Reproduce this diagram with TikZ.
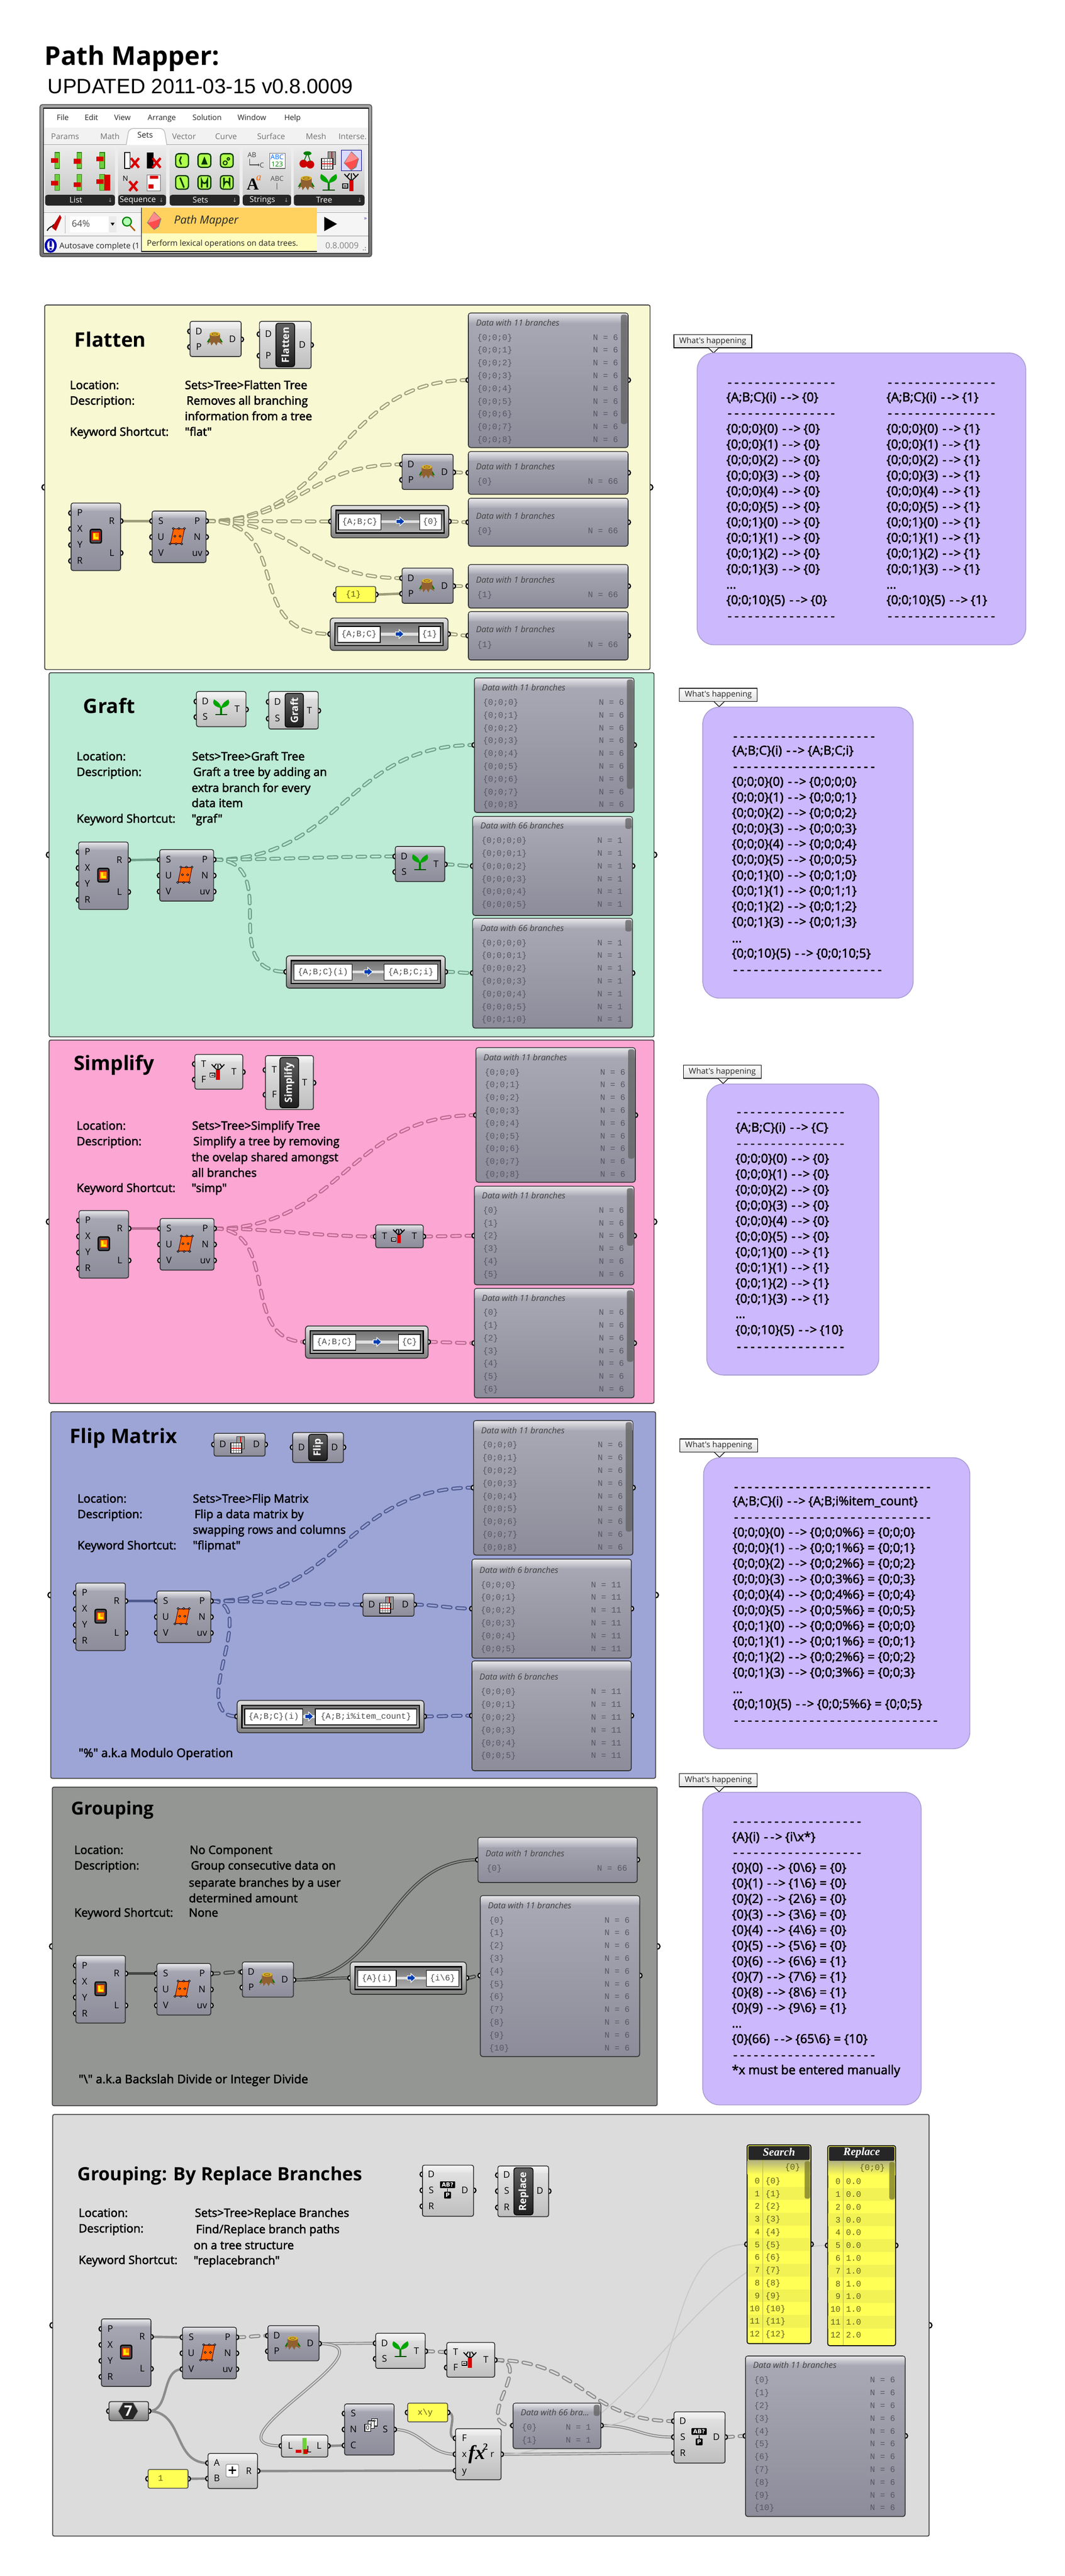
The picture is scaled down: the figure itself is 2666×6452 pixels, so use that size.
\documentclass[tikz,border=0pt]{standalone}
\usepackage{fontspec}
\usetikzlibrary{shapes.geometric}
\setmainfont{Open Sans}
\newfontfamily\fcombase[FakeBold=2.5]{Open Sans}
\newfontfamily\fui{Open Sans}
\newfontfamily\fmonob{Liberation Mono}
\newfontfamily\farial{Liberation Sans}
\newfontfamily\fserif{Liberation Serif}
\newfontfamily\fdj{DejaVu Sans}
\pgfdeclarelayer{panels}\pgfdeclarelayer{wires}\pgfdeclarelayer{ports}
\pgfsetlayers{panels,wires,ports,main}
\newcommand\fz[1]{\fontsize{#1}{#1}\selectfont}
\definecolor{pflat}{HTML}{F8F8D3}\definecolor{pgraft}{HTML}{BCEBD6}\definecolor{psimp}{HTML}{FCA6D3}
\definecolor{pflip}{HTML}{9DA5D7}\definecolor{pgroup}{HTML}{949694}\definecolor{prepl}{HTML}{DCDCDC}
\definecolor{purp}{HTML}{CBB8FD}\definecolor{purpe}{HTML}{A99CD2}
\definecolor{dtop}{HTML}{AAAAB6}\definecolor{dbot}{HTML}{8C8C9A}\definecolor{dband}{HTML}{E4E4E8}
\definecolor{ltop}{HTML}{E6E6E6}\definecolor{lbot}{HTML}{BEBEBE}\definecolor{lband}{HTML}{F4F4F4}
\definecolor{rowc}{HTML}{565664}\definecolor{yel}{HTML}{FFFF55}\definecolor{yel2}{HTML}{F2F255}\definecolor{yeltx}{HTML}{60601A}
\definecolor{orng}{HTML}{FFD15F}\definecolor{gbar}{HTML}{6FCF3F}\definecolor{gdk}{HTML}{2F7F10}
\definecolor{wc}{HTML}{9F9F7C}\definecolor{wb}{HTML}{F8F8D3}
\tikzset{
 txt/.style={inner sep=0pt,outer sep=0pt,anchor=mid west,text=black},
 fnt/.style 2 args={font=#1\fz{#2},yshift={-(0.33*#2-2.7)}},
 portc/.style={draw=black,line width=3pt,fill=white},
 panelbox/.style={rectangle,rounded corners=4pt,draw=black!75,line width=2.2pt,inner sep=0pt,outer sep=0pt},
 cnode/.style={rectangle,rounded corners=5pt,draw=black!80,line width=2.2pt,inner sep=0pt,outer sep=0pt},
 bdark/.style={top color=dtop,bottom color=dbot},
 blight/.style={top color=ltop,bottom color=lbot},
 sdark/.style={top color=dband,bottom color=dtop},
 slight/.style={top color=lband,bottom color=ltop},
 wsolid/.style={draw=wc,line width=6pt},
 wlist/.style={draw=wc,line width=2.4pt,double=wb,double distance=2.6pt},
 wtree/.style={draw=wc,line width=2.8pt,double=wb,double distance=4pt,dash pattern=on 20pt off 16pt,line cap=round},
 wfaint/.style={draw=black!22,line width=2.4pt},
 tabn/.style={rectangle,rounded corners=6pt,draw=black,line width=2pt,top color=black!62,bottom color=black!88,inner sep=0pt,outer sep=0pt},
 pmbody/.style={rectangle,rounded corners=8pt,draw=black!80,line width=2.2pt,top color=black!12,bottom color=black!50,inner sep=0pt,outer sep=0pt},
 pmframe/.style={draw=black,line width=3pt,top color=black!55,bottom color=black!30},
 pmbox/.style={rectangle,draw=black,line width=2pt,fill=white,inner sep=0pt,outer sep=0pt,text=black!70,font=\fmonob\fz{21}},
 yelbox/.style={rectangle,rounded corners=4pt,draw=black!70,line width=2pt,fill=yel,inner sep=0pt,outer sep=0pt},
 purpbox/.style={rectangle,rounded corners=42pt,draw=purpe,line width=2pt,fill=purp,inner sep=0pt,outer sep=0pt},
 calloutn/.style={rectangle,draw=black,line width=2pt,top color=white,bottom color=black!12,inner sep=0pt,outer sep=0pt,font=\fui\fz{20},text=black!85},
}
\newcount\tc
\newcount\dc
\newcommand\tx[4][]{\global\advance\tc by 1 \node[txt,#1] (t\the\tc) at ({#2},{#3}) {#4};}
\newcommand\ct[3]{\tx[fnt={\fcombase}{29}]{#1}{#2}{#3}}
\newcommand\bigt[3]{\tx[fnt={\fui\bfseries}{50}]{#1}{#2}{#3}}
\newcommand\port[3]{\coordinate (#1) at ({#2},{#3});\begin{pgfonlayer}{ports}\draw[portc] ({#2},{#3}) circle[radius=6];\end{pgfonlayer}}
\newcommand\panel[6]{\coordinate (#1-l) at ({#2},{#3+((#5)-(#3))/2});\coordinate (#1-r) at ({#4},{#3+((#5)-(#3))/2});
 \begin{pgfonlayer}{panels}
 \draw[portc] (#1-l) circle[radius=7];\draw[portc] (#1-r) circle[radius=7];
 \node[panelbox,fill=#6,minimum width={(#4)-(#2)},minimum height={(#5)-(#3)}] (#1) at ({#2+((#4)-(#2))/2},{#3+((#5)-(#3))/2}) {};
 \end{pgfonlayer}}
\newcommand\cbody[7]{\node[cnode,b#7,minimum width={(#4)-(#2)},minimum height={(#5)-(#3)}] (#1) at ({#2+((#4)-(#2))/2},{#3+((#5)-(#3))/2}) {};
 \shade[s#7] ({#2+1.2},{#6}) [rounded corners=4pt] -- ({#2+1.2},{#3+1.2}) -- ({#4-1.2},{#3+1.2}) [sharp corners] -- ({#4-1.2},{#6}) -- cycle;}
\newcommand\inp[5]{\port{#1-#2}{#4}{#5}\tx[fnt={\fui}{23},anchor=mid]{#4+22}{#5}{#3}}
\newcommand\outp[5]{\port{#1-#2}{#4}{#5}\tx[fnt={\fui}{23},anchor=mid]{#4-22}{#5}{#3}}
\newcommand\wire[4][wtree]{\begin{pgfonlayer}{wires}\draw[#1] (#2) .. controls +(#4,0) and +(-#4,0) .. (#3);\end{pgfonlayer}}
% ---- icons
\newcommand\icstump[3][1]{\begin{scope}[shift={({#2},{#3})},scale=#1,yscale=.74]
 \fill[green!45!black] (-20,14) -- (-14,0) -- (-8,14) -- cycle;\fill[green!45!black] (20,14) -- (14,0) -- (8,14) -- cycle;
 \fill[brown!75!black] (-13,-14) -- (13,-14) -- (13,6) -- (19,22) -- (8,12) -- (4,25) -- (-2,13) -- (-9,25) -- (-11,12) -- (-19,22) -- (-13,6) -- cycle;
 \fill[brown!60!yellow] (0,-14) ellipse[x radius=13,y radius=7];
 \draw[brown!60!black,line width=1pt] (0,-14) ellipse[x radius=7,y radius=3.5];
 \end{scope}}
\newcommand\icsprout[3][1]{\begin{scope}[shift={({#2},{#3})},scale=#1,yscale=.72]
 \fill[green!50!black] (-2.5,-2) rectangle (2.5,26);\fill[green!30!black] (-15,23) rectangle (15,27);
 \fill[green!65!black] (0,2) .. controls (-22,-4) and (-22,-18) .. (-18,-28) .. controls (-8,-20) and (-1,-12) .. (0,2) -- cycle;
 \fill[green!65!black] (0,2) .. controls (22,-4) and (22,-18) .. (18,-28) .. controls (8,-20) and (1,-12) .. (0,2) -- cycle;
 \end{scope}}
\newcommand\icsimp[3][1]{\begin{scope}[shift={({#2},{#3})},scale=#1,yscale=.8]
 \draw[black,line width=2.5pt] (0,-4) -- (-10,-16) -- (-16,-24) (-10,-16) -- (-4,-26) (0,-4) -- (10,-16) -- (16,-24) (10,-16) -- (4,-26) (0,-4) -- (0,-26);
 \fill[red!85!black] (-5,-6) rectangle (5,24);
 \draw[black,line width=2pt,fill=white] (-20,4) rectangle (-8,16);\fill[black] (-17,9) rectangle (-11,11);
 \end{scope}}
\newcommand\icflip[3][1]{\begin{scope}[shift={({#2},{#3})},scale=#1]
 \draw[black!80,fill=black!40,line width=1.5pt] (-2,-24) rectangle (20,12);
 \fill[red!80!black] (8,-24) rectangle (10,-6);
 \draw[black,fill=white,line width=2pt] (-20,-6) rectangle (12,24);
 \draw[black!60,line width=.8pt] (-12,-6) -- (-12,24) (-4,-6) -- (-4,24) (4,-6) -- (4,24) (-20,2) -- (12,2) (-20,16) -- (12,16);
 \fill[red!85!black] (-20,8) rectangle (12,11);
 \end{scope}}
\newcommand\icsurf[2]{\begin{scope}[shift={({#1},{#2})},yscale=.92]
 \fill[black!70!red] (-10,-21) -- (19,-21) -- (11,21) -- (-18,21) -- cycle;
 \fill[orange!80!red] (-9,-19) -- (17,-19) -- (10,19) -- (-16,19) -- cycle;
 \foreach \qu/\qv in {-10/-21,4/-21,18/-21,-18/21,-3/21,11/21,-6/0,7/0}{\draw[black,fill=white,line width=1.4pt] (\qu,\qv) circle[radius=2.5];}
 \end{scope}}
\newcommand\icrect[2]{\begin{scope}[shift={({#1},{#2})}]
 \draw[black,line width=3pt,fill=black!70,rounded corners=4pt] (-14,-17) rectangle (14,17);
 \fill[orange!90!yellow] (-9,-10) rectangle (9,10);\draw[red!80!black,line width=1.5pt] (-9,-10) rectangle (9,10);
 \fill[yellow] (-6,-7) rectangle (-1,2) (-6,2) rectangle (6,7);
 \end{scope}}
\newcommand\icarrow[2]{\begin{scope}[shift={({#1},{#2})}]
 \draw[white,line width=1.5pt,fill=blue!65!cyan!70!black] (-10,-5) -- (-1,-5) -- (-1,-11) -- (11,0) -- (-1,11) -- (-1,5) -- (-10,5) -- cycle;
 \end{scope}}
\newcommand\icgem[3][1]{\begin{scope}[shift={({#2},{#3})},scale=#1]
 \fill[black!50] (0,-22) -- (18,-4) -- (12,16) -- (0,24) -- (-18,6) -- cycle;
 \fill[red!70!white] (-1,-20) -- (16,-5) -- (10,14) -- (-2,22) -- (-16,6) -- cycle;
 \fill[red!45!white] (-1,-20) -- (16,-5) -- (0,2) -- (-16,6) -- cycle;
 \end{scope}}
\newcommand\icrepl[2]{\begin{scope}[shift={({#1},{#2})}]
 \draw[black,line width=1.5pt] (0,-4) -- (0,6);
 \node[rectangle,rounded corners=1.5pt,fill=black,text=white,font=\fdj\bfseries\fz{14},inner sep=1.2pt,minimum width=38,minimum height=17] (tg\the\tc a) at (0,-13) {AB?};
 \node[rectangle,rounded corners=1.5pt,fill=black,text=white,font=\fdj\bfseries\fz{14},inner sep=1pt,minimum width=17,minimum height=17] (tg\the\tc b) at (0,13) {P};
 \global\advance\tc by 1
 \end{scope}}
% ---- components
\newcommand\rectc[3]{\cbody{#1}{#2}{#3}{#2+124}{#3+169}{#3+20}{dark}
 \inp{#1}{P}{P}{#2}{#3+25}\inp{#1}{X}{X}{#2}{#3+65}\inp{#1}{Y}{Y}{#2}{#3+105}\inp{#1}{Ri}{R}{#2}{#3+145}
 \outp{#1}{R}{R}{#2+124}{#3+45}\outp{#1}{L}{L}{#2+124}{#3+125}\icrect{#2+62}{#3+83}}
\newcommand\surfc[3]{\cbody{#1}{#2}{#3}{#2+135}{#3+129}{#3+19}{dark}
 \inp{#1}{S}{S}{#2}{#3+25}\inp{#1}{U}{U}{#2}{#3+65}\inp{#1}{V}{V}{#2}{#3+105}
 \outp{#1}{P}{P}{#2+135}{#3+25}\outp{#1}{N}{N}{#2+135}{#3+65}\outp{#1}{uv}{uv}{#2+135}{#3+105}\icsurf{#2+63}{#3+63}}
\newcommand\stumpc[4]{\cbody{#1}{#3}{#4}{#3+128}{#4+88}{#4+18}{#2}
 \inp{#1}{D}{D}{#3}{#4+25}\inp{#1}{P}{P}{#3}{#4+64}\outp{#1}{Do}{D}{#3+128}{#4+45}\icstump{#3+62}{#4+42}}
\newcommand\sproutc[4]{\cbody{#1}{#3}{#4}{#3+124}{#4+88}{#4+18}{#2}
 \inp{#1}{D}{D}{#3}{#4+25}\inp{#1}{S}{S}{#3}{#4+64}\outp{#1}{T}{T}{#3+124}{#4+45}\icsprout{#3+62}{#4+40}}
\newcommand\simpc[4]{\cbody{#1}{#3}{#4}{#3+120}{#4+87}{#4+18}{#2}
 \inp{#1}{T}{T}{#3}{#4+24}\inp{#1}{F}{F}{#3}{#4+63}\outp{#1}{To}{T}{#3+120}{#4+44}\icsimp{#3+58}{#4+44}}
\newcommand\simpsmall[3]{\cbody{#1}{#2}{#3}{#2+119}{#3+57}{#3+16}{dark}
 \inp{#1}{T}{T}{#2}{#3+29}\outp{#1}{To}{T}{#2+119}{#3+29}\icsimp[.9]{#2+58}{#3+29}}
\newcommand\flipc[3]{\cbody{#1}{#2}{#3}{#2+128}{#3+57}{#3+16}{dark}
 \inp{#1}{D}{D}{#2}{#3+28}\outp{#1}{Do}{D}{#2+128}{#3+28}\icflip[.85]{#2+59}{#3+29}}
\newcommand\replc[3]{\cbody{#1}{#2}{#3}{#2+128}{#3+128}{#3+18}{light}
 \inp{#1}{D}{D}{#2}{#3+23}\inp{#1}{S}{S}{#2}{#3+63}\inp{#1}{R}{R}{#2}{#3+103}\outp{#1}{Do}{D}{#2+128}{#3+63}\icrepl{#2+63}{#3+62}}
\newcommand\tabc[9]{\cbody{#1}{#2}{#3}{#4}{#5}{#3+18}{#9}
 \node[tabn,minimum width={(#7)-(#6)},minimum height={(#5)-(#3)-9}] (#1-tab) at ({#6+((#7)-(#6))/2},{#3+((#5)-(#3))/2}) {};
 \tx[anchor=center,rotate=90,text=white,font=\fui\bfseries\fz{25}]{#6+((#7)-(#6))/2}{#3+((#5)-(#3))/2}{#8}}
\newcommand\pmap[8]{\node[pmbody,minimum width={(#4)-(#2)},minimum height=81] (#1) at ({#2+((#4)-(#2))/2},{#3+40.5}) {};
 \port{#1-in}{#2}{#3+40}\port{#1-out}{#4}{#3+40}
 \draw[pmframe] ({#2+12},{#3+12}) rectangle ({#4-12},{#3+69});
 \fill[black!12] ({#5},{#3+37}) rectangle ({#6},{#3+44});
 \node[pmbox,minimum width={(#5)-(#2)-19},minimum height=40] (#1-a) at ({#2+19+((#5)-(#2)-19)/2},{#3+41}) {#7};
 \node[pmbox,minimum width={(#4)-19-(#6)},minimum height=40] (#1-b) at ({#6+((#4)-19-(#6))/2},{#3+41}) {#8};
 \icarrow{(#5+#6)/2}{#3+40}}
\newcommand\datap[9]{\node[cnode,rounded corners=6pt,top color=dtop,bottom color=dbot,minimum width={(#4)-(#2)},minimum height={(#5)-(#3)}] (#1) at ({#2+((#4)-(#2))/2},{#3+((#5)-(#3))/2}) {};
 \shade[top color=dband,bottom color=dtop] ({#2+1.2},{#6}) [rounded corners=4pt] -- ({#2+1.2},{#3+1.2}) -- ({#4-1.2},{#3+1.2}) [sharp corners] -- ({#4-1.2},{#6}) -- cycle;
 \port{#1-in}{#2}{#9}\port{#1-out}{#4}{#9}
 \tx[fnt={\fui\itshape}{21},text=black!75]{#2+19}{#8}{#7}}
\newcommand\drow[5]{\tx[fnt={\fmonob}{21},text=rowc]{#1+22}{#3}{#4}\tx[fnt={\fmonob}{21},text=rowc,anchor=mid east]{#2-25}{#3}{N = #5}}
\newcommand\drows[6]{\foreach \qr in {0,...,#4}{\drow{#1}{#2}{#3+32*\qr}{\{#5\qr\}}{#6}}}
\newcommand\scrollb[4]{\fill[black!62,opacity=.75,rounded corners=5pt] ({#1},{#2}) rectangle ({#3},{#4});}
\newcommand\yelc[6]{\node[yelbox,minimum width={(#4)-(#2)},minimum height={(#5)-(#3)}] (#1) at ({#2+((#4)-(#2))/2},{#3+((#5)-(#3))/2}) {};
 \port{#1-in}{#2}{(#3+#5)/2}\port{#1-out}{#4}{(#3+#5)/2}\tx[fnt={\fmonob}{21},text=yeltx]{#2+25}{(#3+#5)/2-1}{#6}}
\newcommand\plist[9]{% name x1 y1 x2 y2 title path porty rows
 \node[rectangle,rounded corners=5pt,fill=yel,draw=black,line width=2.2pt,inner sep=0pt,minimum width={(#4)-(#2)},minimum height={(#5)-(#3)}] (#1) at ({#2+((#4)-(#2))/2},{#3+((#5)-(#3))/2}) {};
 \foreach \qr in {1,3,5,7,9,11}{\fill[yel2] ({#2+1},{#3+74+32*\qr}) rectangle ({#4-1},{#3+106+32*\qr});}
 \fill[top color=yel!50!black!60,bottom color=yel] ({#2+1},{#3+39}) rectangle ({#4-1},{#3+74});
 \draw[black!30!yel,line width=1.5pt] ({#2+39},{#3+39}) -- ({#2+39},{#5-1});
 \fill[black!85,rounded corners=3pt] ({#2+3},{#3+3}) rectangle ({#4-3},{#3+38});
 \tx[anchor=center,text=white,font=\fserif\bfseries\itshape\fz{28}]{(#2+#4)/2}{#3+18}{#6}
 \tx[fnt={\fmonob}{21},text=yeltx,anchor=mid east]{#4-27}{#3+55}{#7}
 \fill[black!50!yel,opacity=.8,rounded corners=5pt] ({#4-16},{#3+41}) rectangle ({#4-2},{#3+135});
 \port{#1-in}{#2}{#8}\port{#1-out}{#4}{#8}
 #9}
\newcommand\prow[4]{\tx[fnt={\fmonob}{21},text=yeltx,anchor=mid east]{#1+32}{#2+90+32*#3}{#3}\tx[fnt={\fmonob}{21},text=yeltx]{#1+46}{#2+90+32*#3}{#4}}
\newcommand\whats[3]{\node[calloutn,minimum width=195,minimum height=33] (#1) at ({#2+97},{#3+16.5}) {What's happening};
 \draw[black,line width=1.6pt,fill=black!6] ({#2+86},{#3+33}) -- ({#2+99},{#3+46}) -- ({#2+112},{#3+33});}
\newcommand\purple[5]{\node[purpbox,minimum width={(#4)-(#2)},minimum height={(#5)-(#3)}] (#1) at ({#2+((#4)-(#2))/2},{#3+((#5)-(#3))/2}) {};}
\newcommand\dashes[1]{\dc=0 \loop\ifnum\dc<#1 \makebox[17.2pt]{-}\advance\dc by 1 \repeat}
\newcommand\arw{\makebox[16pt]{-}\makebox[16pt]{-}\makebox[16pt]{>}}
\newcommand\pt[3]{\tx[fnt={\fcombase}{31}]{#1}{#2}{#3}}
\newcommand\prows[3]{\foreach \qa/\qb [count=\qn from 0] in {0/0,0/1,0/2,0/3,0/4,0/5,1/0,1/1,1/2,1/3}{\pt{#1}{#2+39*\qn}{\{0;0;\qa\}(\qb) \arw{} #3}}}
% ---- toolbar helpers
\newcommand\listic[3]{\draw[gdk,fill=gbar,line width=1.5pt] ({#1-6},{#2-20}) rectangle ({#1+6},{#2+20});\fill[red!85!black] ({#1-15},{#2+#3-6}) rectangle ({#1+3},{#2+#3+6});}
\newcommand\xic[2]{\draw[red!85!black,line width=6pt] ({#1-10},{#2-12}) -- ({#1+10},{#2+12}) ({#1+10},{#2-12}) -- ({#1-10},{#2+12});}
\newcommand\setic[2]{\draw[black!80!green,line width=3pt,fill=green!45!yellow!70!white,rounded corners=7pt] ({#1-16},{#2-17}) rectangle ({#1+16},{#2+17});}
\begin{document}
\begin{tikzpicture}[x=1pt,y=-1pt]
\path[use as bounding box] (0,0) rectangle (2666,6452);
\begin{pgfonlayer}{panels}\fill[white] (0,0) rectangle (2666,6452);\end{pgfonlayer}
% ========= header
\tx[fnt={\fui\bfseries}{65}]{112}{142}{Path Mapper:}
\tx[fnt={\farial}{52}]{120}{217}{UPDATED 2011-03-15 v0.8.0009}
\node[rectangle,rounded corners=6pt,draw=black!70,line width=2pt,top color=black!35,bottom color=black!55,minimum width=831,minimum height=381,inner sep=0pt] (win) at (515.5,452.5) {};
\node[rectangle,draw=black,line width=2pt,fill=white,minimum width=814,minimum height=363,inner sep=0pt] (winin) at (516,452.5) {};
\fill[black!5] (110,320) rectangle (922,362);
\fill[black!7] (110,362) rectangle (922,530);
\draw[black!35,line width=1.5pt] (110,362) -- (322,362) (412,362) -- (922,362);
\draw[black!30,line width=1.5pt,fill=white,rounded corners=10pt] (316,363) -- (323,322) -- (411,322) -- (418,363);
\foreach \qm/\qx in {File/142,Edit/212,View/286,Arrange/370,Solution/482,Window/595,Help/712}{\tx[fnt={\fui}{19},text=black!85]{\qx}{295}{\qm}}
\foreach \qm/\qx in {Params/128,Math/251,Vector/431,Curve/539,Surface/644,Mesh/766,Interse./848}{\tx[fnt={\fui}{20},text=black!55]{\qx}{343}{\qm}}
\tx[fnt={\fui}{20},text=black!85]{344}{339}{Sets}
\foreach \qa/\qb/\qm/\qc in {113/288/List/190,296/416/Sequence/345,425/600/Sets/502,608/729/Strings/657,736/913/Tree/812}{
 \shade[top color=black!8,bottom color=black!22,rounded corners=6pt] (\qa,370) rectangle (\qb,500);
 \fill[black!85,rounded corners=6pt] (\qa,488) rectangle (\qb,515);
 \tx[anchor=center,font=\fui\fz{20},text=white]{\qc}{501}{\qm}
 \tx[anchor=center,font=\fdj\fz{14},text=black!35]{\qb-12}{501}{↓}}
\listic{143}{402}{0}\listic{199}{402}{2}\listic{256}{402}{-4}\listic{143}{457}{2}\listic{199}{457}{6}\listic{256}{457}{-2}
\fill[red!85!black] (262,437) rectangle (276,477);
\draw[black,fill=white,line width=2pt] (312,382) rectangle (326,422);\xic{338}{408}
\fill[black] (368,382) rectangle (384,422);\xic{392}{408}
\xic{334}{466}\tx[anchor=center,font=\fui\fz{18}]{314}{447}{N}
\draw[black!60,fill=white,line width=1.5pt] (368,438) rectangle (402,478);\fill[red!85!black] (372,462) rectangle (384,472);\fill[red!85!black] (376,440) rectangle (396,448);
\setic{456}{402}\setic{512}{402}\setic{568}{402}\setic{456}{457}\setic{512}{457}\setic{568}{457}
\draw[black!80!green,line width=3.5pt] (454,392) -- (450,402) -- (454,412);\fill[black!80!green] (504,412) -- (512,392) -- (520,412) -- cycle;
\draw[black!80!green,line width=2.5pt] (564,408) circle[radius=5] (572,398) circle[radius=3];
\draw[black!80!green,line width=4pt] (451,445) -- (461,470);\draw[black!80!green,line width=4pt] (505,470) -- (505,452) arc[start angle=180,end angle=0,radius=7] -- (519,470);
\draw[black!80!green,line width=4pt] (561,445) -- (561,462) arc[start angle=180,end angle=360,radius=7] -- (575,445);
\tx[anchor=center,font=\fui\fz{17},text=black!75]{631}{388}{AB}\draw[black!70,line width=1.5pt,->] (625,398) -- (625,413) -- (650,413);\tx[anchor=center,font=\fui\fz{17},text=black!75]{656}{414}{C}
\draw[black!60,fill=white,line width=1.5pt] (675,384) rectangle (714,422);\tx[anchor=center,font=\fui\fz{17},text=blue!60!cyan]{694}{393}{ABC}\tx[anchor=center,font=\fui\fz{17},text=green!50!black]{694}{412}{123}
\tx[anchor=center,font=\fserif\bfseries\fz{42}]{633}{462}{A}\tx[anchor=center,font=\fserif\itshape\fz{26},text=orange!80!red]{648}{446}{a}
\tx[anchor=center,font=\fui\fz{17},text=black!70]{694}{448}{ABC}\draw[black!70,line width=1.5pt] (694,458) -- (694,475);
\fill[red!80!black] (760,410) circle[radius=10] (777,412) circle[radius=10];\draw[green!40!black,line width=2pt] (762,402) -- (770,382) -- (777,404);\fill[green!50!black] (770,384) ellipse[x radius=10,y radius=5];
\icflip[.9]{823}{402}
\draw[blue!50!black,line width=2pt,fill=blue!15] (855,376) rectangle (905,428);\icgem[1.05]{880}{402}
\icstump[1.05]{767}{457}\icsprout[1.05]{823}{457}\icsimp[1.1]{880}{457}
\draw[black!40,line width=2pt] (110,532) -- (922,532);
\fill[black!4] (110,534) rectangle (922,590);\fill[black!5] (110,592) rectangle (922,633);\draw[black!25,line width=1.5pt] (110,591) -- (922,591);
\fill[white] (175,542) rectangle (272,582);\fill[black!8] (272,542) rectangle (292,582);
\tx[fnt={\fui}{23},text=black!70]{180}{561}{64\%}\fill[black] (277,558) -- (287,558) -- (282,565) -- cycle;
\draw[black!30,line width=1.5pt] (163,540) -- (163,585);
\draw[black,line width=2.5pt] (118,578) .. controls (125,565) and (130,570) .. (135,562);\fill[red!75!black] (130,570) -- (150,538) -- (154,545) -- (140,578) -- cycle;
\draw[green!50!black,line width=3pt,fill=green!30] (318,555) circle[radius=11];\draw[orange!70!black,line width=3.5pt] (326,565) -- (338,578);
\fill[black] (812,543) -- (844,561) -- (812,579) -- cycle;
\tx[anchor=center,font=\fdj\fz{14},text=blue!50!gray]{915}{548}{»}
\fill[blue!70!black] (127,615) ellipse[x radius=15,y radius=18];\fill[white] (127,615) ellipse[x radius=9,y radius=13];\fill[blue!70!black] (124,603) rectangle (130,618) (124,621) rectangle (130,626);
\tx[fnt={\fui}{20},text=black!85]{149}{616}{Autosave complete (1}
\tx[fnt={\fui}{21},text=black!50]{815}{616}{0.8.0009}
\foreach \qu/\qv in {915/620,910/626,915/626}{\fill[black!45] (\qu,\qv) circle[radius=1.6];}
\fill[orng] (354,520) rectangle (794,585);\fill[yellow!25] (354,585) rectangle (794,630);
\draw[black,line width=2pt] (354,520) -- (354,630) -- (794,630);
\icgem[1]{386}{552}
\tx[fnt={\fui\itshape}{28},text=black!85]{436}{551}{Path Mapper}
\tx[fnt={\fui}{20},text=black!85]{368}{609}{Perform lexical operations on data trees.}
% ========= Flatten
\definecolor{wc}{HTML}{9E9E7A}\colorlet{wb}{pflat}
\panel{p1}{112}{764}{1628}{1677}{pflat}
\bigt{187}{852}{Flatten}
\stumpc{a1}{light}{476}{805}
\tabc{a2}{650}{805}{779}{923}{691}{738}{Flatten}{light}
\inp{a2}{D}{D}{650}{837}\inp{a2}{P}{P}{650}{891}\outp{a2}{Do}{D}{779}{864}
\ct{175}{965}{Location:}\ct{463}{965}{Sets>Tree>Flatten Tree}
\ct{175}{1004}{Description:}\ct{467}{1004}{Removes all branching}\ct{463}{1043}{information from a tree}
\ct{175}{1082}{Keyword Shortcut:}\ct{463}{1082}{"flat"}
\rectc{r1}{178}{1260}\surfc{s1}{381}{1280}
\datap{d11}{1173}{784}{1573}{1121}{809}{Data with 11 branches}{809}{952}
\drows{1173}{1573}{845}{8}{0;0;}{6}\scrollb{1555}{788}{1571}{1062}
\datap{d12}{1173}{1131}{1573}{1238}{1154}{Data with 1 branches}{1169}{1184}\drow{1173}{1573}{1205}{\{0\}}{66}
\datap{d13}{1173}{1248}{1573}{1368}{1272}{Data with 1 branches}{1293}{1308}\drow{1173}{1573}{1329}{\{0\}}{66}
\datap{d14}{1173}{1414}{1573}{1523}{1437}{Data with 1 branches}{1453}{1468}\drow{1173}{1573}{1489}{\{1\}}{66}
\datap{d15}{1173}{1532}{1573}{1653}{1556}{Data with 1 branches}{1577}{1592}\drow{1173}{1573}{1614}{\{1\}}{66}
\stumpc{f1}{dark}{1007}{1138}\stumpc{f2}{dark}{1007}{1423}
\pmap{m1}{829}{1266}{1124}{954}{1051}{\{A;B;C\}}{\{0\}}
\pmap{m2}{827}{1548}{1122}{952}{1049}{\{A;B;C\}}{\{1\}}
\yelc{y1}{841}{1469}{941}{1509}{\{1\}}
\wire[wsolid]{r1-R}{s1-S}{30}
\wire{s1-P}{d11-in}{330}\wire{s1-P}{f1-D}{245}\wire{s1-P}{m1-in}{100}\wire{s1-P}{f2-D}{245}\wire{s1-P}{m2-in}{230}
\wire{f1-Do}{d12-in}{15}\wire{m1-out}{d13-in}{20}\wire{f2-Do}{d14-in}{15}\wire{m2-out}{d15-in}{20}
\wire[wsolid]{y1-out}{f2-P}{20}
% ========= Graft
\definecolor{wc}{HTML}{6EA08A}\colorlet{wb}{pgraft}
\panel{p2}{123}{1685}{1638}{2597}{pgraft}
\bigt{209}{1770}{Graft}
\sproutc{a3}{light}{492}{1732}
\tabc{a4}{673}{1732}{797}{1826}{714}{760}{Graft}{light}
\inp{a4}{D}{D}{673}{1758}\inp{a4}{S}{S}{673}{1800}\outp{a4}{T}{T}{797}{1780}
\ct{192}{1895}{Location:}\ct{481}{1895}{Sets>Tree>Graft Tree}
\ct{192}{1934}{Description:}\ct{484}{1934}{Graft a tree by adding an}\ct{480}{1974}{extra branch for every}\ct{480}{2012}{data item}
\ct{192}{2051}{Keyword Shortcut:}\ct{480}{2051}{"graf"}
\rectc{r2}{197}{2109}\surfc{s2}{400}{2128}
\datap{d21}{1188}{1698}{1588}{2035}{1723}{Data with 11 branches}{1723}{1866}
\drows{1188}{1588}{1759}{8}{0;0;}{6}\scrollb{1570}{1702}{1586}{1976}
\datap{d22}{1184}{2045}{1584}{2293}{2069}{Data with 66 branches}{2069}{2169}
\drows{1184}{1584}{2105}{5}{0;0;0;}{1}\scrollb{1566}{2049}{1582}{2076}
\datap{d23}{1184}{2300}{1584}{2575}{2325}{Data with 66 branches}{2325}{2437}
\drows{1184}{1584}{2361}{5}{0;0;0;}{1}\drow{1184}{1584}{2553}{\{0;0;1;0\}}{1}\scrollb{1566}{2304}{1582}{2333}
\sproutc{g1}{dark}{990}{2120}
\pmap{m3}{717}{2394}{1115}{882}{962}{\{A;B;C\}(i)}{\{A;B;C;i\}}
\wire[wsolid]{r2-R}{s2-S}{30}
\wire{s2-P}{d21-in}{320}\wire{s2-P}{g1-D}{150}\wire{s2-P}{m3-in}{180}
\wire{g1-T}{d22-in}{30}\wire{m3-out}{d23-in}{30}
% ========= Simplify
\definecolor{wc}{HTML}{BA6A90}\colorlet{wb}{psimp}
\panel{p3}{123}{2605}{1638}{3515}{psimp}
\bigt{185}{2664}{Simplify}
\simpc{a5}{light}{488}{2641}
\tabc{a6}{665}{2644}{785}{2779}{701}{748}{Simplify}{light}
\inp{a6}{T}{T}{665}{2680}\inp{a6}{F}{F}{665}{2742}\outp{a6}{To}{T}{785}{2712}
\ct{192}{2820}{Location:}\ct{481}{2820}{Sets>Tree>Simplify Tree}
\ct{192}{2859}{Description:}\ct{484}{2859}{Simplify a tree by removing}\ct{480}{2899}{the ovelap shared amongst}\ct{480}{2938}{all branches}
\ct{192}{2976}{Keyword Shortcut:}\ct{480}{2976}{"simp"}
\rectc{r3}{198}{3032}\surfc{s3}{401}{3052}
\datap{d31}{1192}{2624}{1591}{2961}{2649}{Data with 11 branches}{2649}{2793}
\drows{1192}{1591}{2685}{8}{0;0;}{6}\scrollb{1573}{2628}{1589}{2902}
\datap{d32}{1188}{2971}{1588}{3218}{2995}{Data with 11 branches}{2995}{3095}
\drows{1188}{1588}{3031}{5}{}{6}\scrollb{1570}{2976}{1586}{3120}
\datap{d33}{1188}{3227}{1588}{3501}{3252}{Data with 11 branches}{3252}{3364}
\drows{1188}{1588}{3287}{6}{}{6}\scrollb{1570}{3232}{1586}{3411}
\simpsmall{u1}{941}{3068}
\pmap{m4}{765}{3321}{1072}{891}{998}{\{A;B;C\}}{\{C\}}
\wire[wsolid]{r3-R}{s3-S}{30}
\wire{s3-P}{d31-in}{320}\wire{s3-P}{u1-T}{150}\wire{s3-P}{m4-in}{170}
\wire{u1-To}{d32-in}{30}\wire{m4-out}{d33-in}{30}
% ========= Flip
\definecolor{wc}{HTML}{4F5A90}\colorlet{wb}{pflip}
\panel{p4}{127}{3536}{1642}{4454}{pflip}
\bigt{175}{3598}{Flip Matrix}
\flipc{a7}{536}{3590}
\tabc{a8}{733}{3588}{860}{3663}{773}{820}{Flip}{dark}
\inp{a8}{D}{D}{733}{3625}\outp{a8}{Do}{D}{860}{3625}
\ct{194}{3754}{Location:}\ct{483}{3754}{Sets>Tree>Flip Matrix}
\ct{194}{3793}{Description:}\ct{487}{3793}{Flip a data matrix by}\ct{483}{3832}{swapping rows and columns}
\ct{194}{3871}{Keyword Shortcut:}\ct{483}{3871}{"flipmat"}
\tx[fnt={\fcombase}{30}]{197}{4391}{"\%" a.k.a Modulo Operation}
\rectc{r4}{190}{3965}\surfc{s4}{393}{3985}
\datap{d41}{1186}{3558}{1585}{3895}{3583}{Data with 11 branches}{3583}{3726}
\drows{1186}{1585}{3619}{8}{0;0;}{6}\scrollb{1567}{3562}{1583}{3836}
\datap{d42}{1182}{3905}{1581}{4153}{3929}{Data with 6 branches}{3933}{4029}
\drows{1182}{1581}{3969}{5}{0;0;}{11}
\datap{d43}{1182}{4160}{1581}{4435}{4185}{Data with 6 branches}{4201}{4297}
\drows{1182}{1581}{4237}{5}{0;0;}{11}
\flipc{h1}{909}{3991}
\pmap{m5}{594}{4259}{1062}{758}{790}{\{A;B;C\}(i)}{\{A;B;i\%item\_count\}}
\wire[wsolid]{r4-R}{s4-S}{30}
\wire{s4-P}{d41-in}{320}\wire{s4-P}{h1-D}{150}\wire{s4-P}{m5-in}{130}
\wire{h1-Do}{d42-in}{50}\wire{m5-out}{d43-in}{40}
% ========= Grouping
\definecolor{wc}{HTML}{444644}\colorlet{wb}{pgroup}
\panel{p5}{131}{4476}{1646}{5274}{pgroup}
\tx[fnt={\fui\bfseries}{45}]{178}{4530}{Grouping}
\ct{186}{4634}{Location:}\ct{475}{4634}{No Component}
\ct{186}{4673}{Description:}\ct{478}{4673}{Group consecutive data on}\ct{473}{4716}{separate branches by a user}\ct{473}{4755}{determined amount}
\ct{186}{4791}{Keyword Shortcut:}\ct{473}{4791}{None}
\tx[fnt={\fcombase}{30}]{197}{5208}{"\textbackslash" a.k.a Backslah Divide or Integer Divide}
\rectc{r5}{190}{4898}\surfc{s5}{393}{4918}
\datap{d51}{1197}{4602}{1596}{4715}{4627}{Data with 1 branches}{4643}{4658}\drow{1197}{1596}{4679}{\{0\}}{66}
\datap{d52}{1203}{4748}{1602}{5151}{4772}{Data with 11 branches}{4773}{4948}\drows{1203}{1602}{4809}{10}{}{6}
\stumpc{f5}{dark}{607}{4914}
\pmap{m6}{877}{4914}{1168}{992}{1068}{\{A\}(i)}{\{i\textbackslash 6\}}
\wire[wsolid]{r5-R}{s5-S}{30}
\wire{s5-P}{f5-D}{30}
\wire[wlist]{f5-Do}{d51-in}{230}\wire[wlist]{f5-Do}{m6-in}{60}\wire{m6-out}{d52-in}{15}
% ========= Replace
\definecolor{wc}{HTML}{8C8C8C}\colorlet{wb}{prepl}
\panel{p6}{132}{5296}{2327}{6352}{prepl}
\tx[fnt={\fui\bfseries}{46}]{194}{5447}{Grouping: By Replace Branches}
\ct{197}{5543}{Location:}\ct{488}{5543}{Sets>Tree>Replace Branches}
\ct{197}{5582}{Description:}\ct{491}{5584}{Find/Replace branch paths}\ct{485}{5624}{on a tree structure}
\ct{197}{5661}{Keyword Shortcut:}\ct{485}{5662}{"replacebranch"}
\replc{a9}{1058}{5423}
\tabc{a10}{1247}{5425}{1374}{5552}{1287}{1335}{Replace}{light}
\inp{a10}{D}{D}{1247}{5448}\inp{a10}{S}{S}{1247}{5488}\inp{a10}{R}{R}{1247}{5529}\outp{a10}{Do}{D}{1374}{5488}
\rectc{r6}{254}{5808}\surfc{s6}{457}{5829}
\stumpc{f6}{dark}{671}{5825}\sproutc{g6}{light}{941}{5844}\simpc{u6}{light}{1119}{5867}
% slider
\node[cnode,top color=black!12,bottom color=black!50,minimum width=99,minimum height=48] (n7) at (322.5,6039) {};
\port{n7-in}{273}{6039}\port{n7-out}{372}{6039}
\node[regular polygon,regular polygon sides=6,fill=black!85,draw=black!40,line width=1.5pt,minimum size=50,inner sep=0pt,text=white,font=\fui\bfseries\fz{36}] (n7h) at (321,6039) {7};
\yelc{y6}{371}{6185}{471}{6232}{ 1}
\yelc{y7}{1021}{6019}{1121}{6066}{x\textbackslash y}
% add
\cbody{ad}{521}{6145}{645}{6233}{6163}{light}
\inp{ad}{A}{A}{521}{6169}\inp{ad}{B}{B}{521}{6208}\outp{ad}{R}{R}{645}{6189}
\node[rectangle,rounded corners=4pt,draw=black!40,line width=2pt,fill=white,minimum size=32,inner sep=0pt,font=\fdj\bfseries\fz{30}] (adp) at (582,6188) {+};
% list length
\cbody{ll}{705}{6099}{821}{6154}{6114}{light}
\inp{ll}{L}{L}{705}{6126}\outp{ll}{Lo}{L}{821}{6126}
\fill[gbar] (757,6106) rectangle (768,6148);\fill[red!85!black] (760,6134) rectangle (771,6146);\fill[red!85!black] (741,6136) rectangle (755,6144);
\tx[anchor=center,font=\fui\fz{23}]{774}{6135}{L}
% series
\cbody{se}{863}{6021}{987}{6149}{6040}{dark}
\inp{se}{S}{S}{863}{6045}\inp{se}{N}{N}{863}{6085}\inp{se}{C}{C}{863}{6125}\outp{se}{So}{S}{987}{6085}
\foreach \qu/\qv/\qm/\qw in {938/6067/?/a,930/6073/1/b,921/6081/0/c}{\node[rectangle,draw=black,line width=1.5pt,fill=white,inner sep=0pt,minimum width=15,minimum height=19,font=\fui\fz{15}] (sr\qw) at (\qu,\qv) {\qm};}
% fx
\cbody{fx}{1141}{6083}{1255}{6211}{6100}{light}
\inp{fx}{F}{F}{1141}{6107}\inp{fx}{x}{x}{1141}{6147}\inp{fx}{y}{y}{1141}{6188}\outp{fx}{r}{r}{1255}{6147}
\tx[anchor=center,font=\fserif\bfseries\itshape\fz{50}]{1195}{6148}{fx}\tx[anchor=center,font=\fserif\bfseries\fz{24}]{1216}{6128}{2}
% data etc
\datap{d66}{1285}{6019}{1505}{6133}{6040}{Data with 66 bra...}{6043}{6075}
\drow{1285}{1505}{6079}{\{0\}}{1}\drow{1285}{1505}{6111}{\{1\}}{1}\scrollb{1487}{6023}{1502}{6051}
\replc{rb}{1688}{6041}
\datap{d61}{1867}{5901}{2267}{6303}{5924}{Data with 11 branches}{5924}{6101}\drows{1867}{2267}{5961}{10}{}{6}
\plist{ps}{1871}{5372}{2031}{5870}{Search}{\{0\}}{5621}{\foreach \qr in {0,...,12}{\prow{1871}{5372}{\qr}{\{\qr\}}}}
\plist{pr}{2073}{5374}{2243}{5875}{Replace}{\{0;0\}}{5624}{\foreach \qr/\qv in {0/0.0,1/0.0,2/0.0,3/0.0,4/0.0,5/0.0,6/1.0,7/1.0,8/1.0,9/1.0,10/1.0,11/1.0,12/2.0}{\prow{2073}{5374}{\qr}{\qv}}}
% wires
\wire[wsolid]{r6-R}{s6-S}{30}
\wire[wsolid]{n7-out}{s6-V}{55}\wire[wsolid]{n7-out}{ad-A}{90}\wire[wsolid]{y6-out}{ad-B}{20}
\wire{s6-P}{f6-D}{30}
\wire[wlist]{f6-Do}{g6-D}{40}\wire[wlist]{f6-Do}{ll-L}{210}
\wire{g6-T}{u6-T}{20}
\wire[wsolid]{ll-Lo}{se-C}{15}
\wire[wlist]{se-So}{fx-x}{70}
\wire[wsolid]{y7-out}{fx-F}{30}
\wire[wsolid]{ad-R}{fx-y}{100}
\wire{u6-To}{d66-in}{110}\wire{u6-To}{rb-D}{220}
\wire[wlist]{d66-out}{rb-S}{90}\wire[wlist]{fx-r}{rb-R}{150}
\wire[wfaint]{d66-out}{ps-in}{230}\wire[wfaint]{fx-r}{pr-in}{340}
\wire{rb-Do}{d61-in}{15}
% ========= purple panels
\whats{c1}{1688}{838}\purple{v1}{1746}{884}{2569}{1615}
\pt{1819}{958}{\dashes{16}}\pt{2220}{958}{\dashes{16}}
\pt{1819}{995}{\{A;B;C\}(i) \arw{} \{0\}}\pt{2220}{995}{\{A;B;C\}(i) \arw{} \{1\}}
\pt{1819}{1035}{\dashes{16}}\pt{2220}{1035}{\dashes{16}}
\prows{1819}{1074}{\{0\}}\prows{2220}{1074}{\{1\}}
\pt{1819}{1464}{...}\pt{2220}{1464}{...}
\pt{1819}{1503}{\{0;0;10\}(5) \arw{} \{0\}}\pt{2220}{1503}{\{0;0;10\}(5) \arw{} \{1\}}
\pt{1819}{1543}{\dashes{16}}\pt{2220}{1543}{\dashes{16}}
\whats{c2}{1702}{1724}\purple{v2}{1760}{1771}{2287}{2500}
\pt{1833}{1844}{\dashes{21}}\pt{1833}{1880}{\{A;B;C\}(i) \arw{} \{A;B;C;i\}}\pt{1833}{1920}{\dashes{21}}
\prows{1833}{1958}{\{0;0;\qa;\qb\}}
\pt{1833}{2350}{...}\pt{1833}{2388}{\{0;0;10\}(5) \arw{} \{0;0;10;5\}}\pt{1833}{2429}{\dashes{22}}
\whats{c3}{1712}{2668}\purple{v3}{1770}{2715}{2201}{3444}
\pt{1842}{2785}{\dashes{16}}\pt{1842}{2824}{\{A;B;C\}(i) \arw{} \{C\}}\pt{1842}{2864}{\dashes{16}}
\prows{1842}{2902}{\{\qa\}}
\pt{1842}{3291}{...}\pt{1842}{3331}{\{0;0;10\}(5) \arw{} \{10\}}\pt{1842}{3373}{\dashes{16}}
\whats{c4}{1703}{3604}\purple{v4}{1762}{3651}{2429}{4380}
\pt{1835}{3724}{\dashes{29}}\pt{1835}{3760}{\{A;B;C\}(i) \arw{} \{A;B;i\%item\_count\}}\pt{1835}{3800}{\dashes{29}}
\prows{1835}{3838}{\{0;0;\qb\%6\} = \{0;0;\qb\}}
\pt{1835}{4230}{...}\pt{1835}{4268}{\{0;0;10\}(5) \arw{} \{0;0;5\%6\} = \{0;0;5\}}\pt{1835}{4309}{\dashes{30}}
\whats{c5}{1702}{4442}\purple{v5}{1760}{4489}{2307}{5272}
\pt{1833}{4562}{\dashes{19}}\pt{1833}{4601}{\{A\}(i) \arw{} \{i\textbackslash x*\}}\pt{1833}{4640}{\dashes{19}}
\foreach \qa/\qb [count=\qn from 0] in {0/0,1/0,2/0,3/0,4/0,5/0,6/1,7/1,8/1,9/1}{\pt{1833}{4678+39*\qn}{\{0\}(\qa) \arw{} \{\qa\textbackslash 6\} = \{\qb\}}}
\pt{1833}{5068}{...}\pt{1833}{5107}{\{0\}(66) \arw{} \{65\textbackslash 6\} = \{10\}}\pt{1833}{5147}{\dashes{21}}
\pt{1833}{5185}{*x must be entered manually}
\end{tikzpicture}
\end{document}
